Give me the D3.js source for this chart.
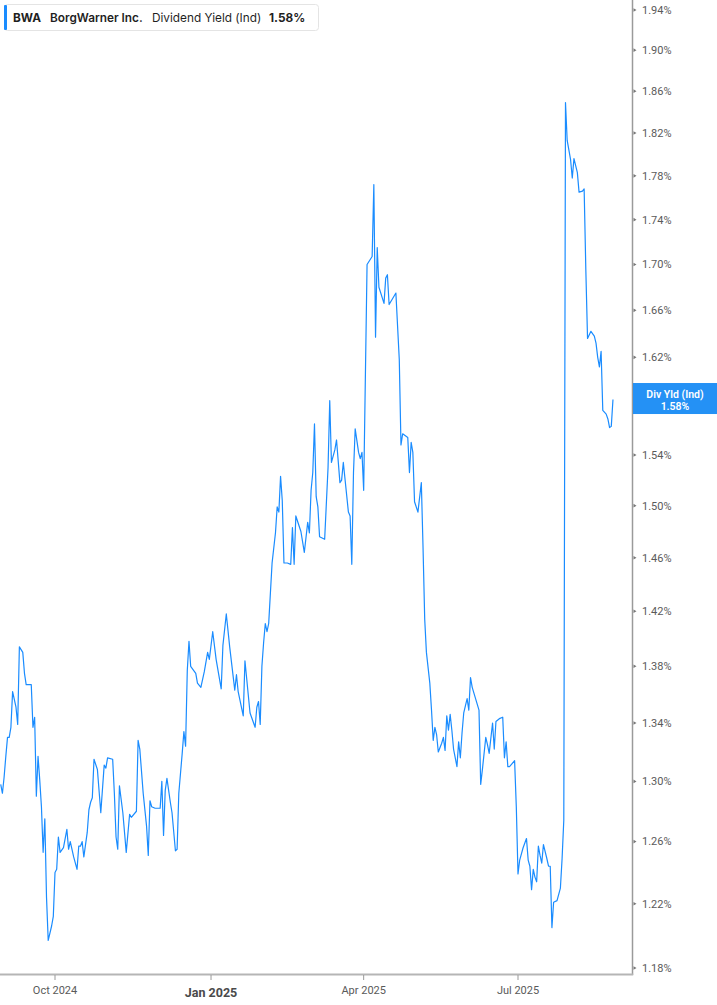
<!DOCTYPE html>
<html><head><meta charset="utf-8">
<script src="https://cdn.jsdelivr.net/npm/d3@7"></script>
<style>
html,body{margin:0;padding:0;background:#fff;}
svg{display:block;}
</style></head><body>
<svg id="chart" width="717" height="1005"></svg>
<script>
const dates = [
"2024-08-30","2024-08-31","2024-09-01","2024-09-02","2024-09-03","2024-09-04","2024-09-05","2024-09-06","2024-09-08","2024-09-09",
"2024-09-10","2024-09-12","2024-09-13","2024-09-14","2024-09-17","2024-09-18","2024-09-19","2024-09-20","2024-09-21","2024-09-22",
"2024-09-23","2024-09-24","2024-09-25","2024-09-26","2024-09-27","2024-09-29","2024-09-30","2024-10-01","2024-10-02","2024-10-03",
"2024-10-04","2024-10-06","2024-10-08","2024-10-09","2024-10-10","2024-10-12","2024-10-14","2024-10-15","2024-10-16","2024-10-17",
"2024-10-18","2024-10-20","2024-10-21","2024-10-22","2024-10-23","2024-10-24","2024-10-26","2024-10-28","2024-10-30","2024-10-31",
"2024-11-01","2024-11-04","2024-11-05","2024-11-06","2024-11-07","2024-11-08","2024-11-10","2024-11-12","2024-11-14","2024-11-15",
"2024-11-18","2024-11-19","2024-11-20","2024-11-22","2024-11-24","2024-11-25","2024-11-26","2024-11-27","2024-11-29","2024-12-02",
"2024-12-03","2024-12-04","2024-12-05","2024-12-06","2024-12-08","2024-12-09","2024-12-11","2024-12-12","2024-12-13","2024-12-15",
"2024-12-16","2024-12-17","2024-12-18","2024-12-19","2024-12-20","2024-12-23","2024-12-24","2024-12-26","2024-12-28","2024-12-30",
"2024-12-31","2025-01-02","2025-01-04","2025-01-07","2025-01-08","2025-01-10","2025-01-12","2025-01-15","2025-01-16","2025-01-17",
"2025-01-20","2025-01-21","2025-01-24","2025-01-27","2025-01-28","2025-01-29","2025-01-30","2025-01-31","2025-02-01","2025-02-02",
"2025-02-03","2025-02-04","2025-02-06","2025-02-08","2025-02-09","2025-02-10","2025-02-11","2025-02-12","2025-02-13","2025-02-15",
"2025-02-17","2025-02-18","2025-02-19","2025-02-20","2025-02-23","2025-02-25","2025-02-27","2025-02-28","2025-03-01","2025-03-02",
"2025-03-03","2025-03-04","2025-03-05","2025-03-06","2025-03-09","2025-03-11","2025-03-12","2025-03-13","2025-03-15","2025-03-16",
"2025-03-18","2025-03-19","2025-03-20","2025-03-23","2025-03-24","2025-03-25","2025-03-26","2025-03-27","2025-03-29","2025-03-30",
"2025-03-31","2025-04-01","2025-04-03","2025-04-06","2025-04-07","2025-04-08","2025-04-09","2025-04-10","2025-04-13","2025-04-14",
"2025-04-15","2025-04-16","2025-04-20","2025-04-22","2025-04-23","2025-04-24","2025-04-27","2025-04-28","2025-04-29","2025-04-30",
"2025-05-01","2025-05-03","2025-05-05","2025-05-06","2025-05-07","2025-05-08","2025-05-10","2025-05-11","2025-05-12","2025-05-13",
"2025-05-14","2025-05-15","2025-05-17","2025-05-18","2025-05-19","2025-05-20","2025-05-21","2025-05-22","2025-05-23","2025-05-24",
"2025-05-26","2025-05-27","2025-05-28","2025-05-29","2025-05-30","2025-06-01","2025-06-02","2025-06-03","2025-06-04","2025-06-08",
"2025-06-09","2025-06-10","2025-06-12","2025-06-13","2025-06-14","2025-06-16","2025-06-17","2025-06-18","2025-06-20","2025-06-22",
"2025-06-23","2025-06-24","2025-06-25","2025-06-26","2025-06-29","2025-06-30","2025-07-01","2025-07-02","2025-07-04","2025-07-06",
"2025-07-07","2025-07-08","2025-07-09","2025-07-10","2025-07-11","2025-07-12","2025-07-13","2025-07-14","2025-07-15","2025-07-16",
"2025-07-18","2025-07-19","2025-07-20","2025-07-21","2025-07-22","2025-07-24","2025-07-26","2025-07-27","2025-07-28","2025-07-29",
"2025-07-30","2025-08-01","2025-08-02","2025-08-03","2025-08-05","2025-08-06","2025-08-08","2025-08-09","2025-08-10","2025-08-11",
"2025-08-13","2025-08-15","2025-08-16","2025-08-17","2025-08-18","2025-08-19","2025-08-20","2025-08-22","2025-08-23","2025-08-24",
"2025-08-25","2025-08-26"
];

const dividendYield = [
1.298,1.292,1.303,1.317,1.330,1.330,1.337,1.362,1.351,1.339,
1.394,1.390,1.375,1.367,1.367,1.337,1.344,1.290,1.317,1.301,
1.283,1.253,1.275,1.224,1.197,1.206,1.212,1.240,1.242,1.263,
1.253,1.256,1.268,1.255,1.260,1.250,1.242,1.257,1.257,1.260,
1.250,1.266,1.281,1.286,1.289,1.315,1.308,1.279,1.311,1.309,
1.316,1.315,1.292,1.263,1.255,1.297,1.279,1.253,1.278,1.276,
1.280,1.328,1.322,1.292,1.270,1.251,1.287,1.283,1.282,1.282,
1.300,1.264,1.294,1.302,1.286,1.279,1.254,1.255,1.292,1.319,
1.334,1.324,1.377,1.398,1.380,1.375,1.368,1.365,1.376,1.390,
1.385,1.405,1.385,1.364,1.395,1.418,1.394,1.363,1.374,1.362,
1.345,1.384,1.347,1.337,1.351,1.355,1.339,1.380,1.397,1.411,
1.405,1.411,1.456,1.479,1.499,1.495,1.523,1.504,1.456,1.456,
1.455,1.483,1.455,1.492,1.480,1.464,1.487,1.479,1.512,1.526,
1.565,1.507,1.499,1.476,1.474,1.530,1.584,1.534,1.544,1.552,
1.518,1.520,1.534,1.495,1.492,1.455,1.526,1.561,1.542,1.537,
1.542,1.512,1.700,1.707,1.772,1.637,1.715,1.680,1.666,1.688,
1.691,1.665,1.675,1.618,1.548,1.557,1.554,1.526,1.550,1.542,
1.503,1.495,1.518,1.468,1.414,1.390,1.368,1.349,1.328,1.337,
1.332,1.320,1.326,1.330,1.321,1.345,1.335,1.346,1.335,1.322,
1.310,1.327,1.316,1.333,1.347,1.357,1.349,1.372,1.365,1.349,
1.298,1.308,1.330,1.325,1.319,1.340,1.322,1.341,1.343,1.344,
1.316,1.327,1.310,1.310,1.314,1.283,1.239,1.248,1.256,1.262,
1.248,1.244,1.229,1.242,1.237,1.234,1.257,1.251,1.246,1.258,
1.249,1.244,1.244,1.205,1.221,1.222,1.230,1.249,1.274,1.849,
1.813,1.795,1.778,1.796,1.783,1.765,1.766,1.768,1.695,1.636,
1.642,1.638,1.632,1.620,1.612,1.625,1.576,1.573,1.569,1.562,
1.563,1.585
];

const yTickValues = [1.18,1.22,1.26,1.30,1.34,1.38,1.42,1.46,1.50,1.54,1.58,1.62,1.66,1.70,1.74,1.78,1.82,1.86,1.90,1.94];
const xTickDates = ["2024-10-01","2025-01-01","2025-04-01","2025-07-01"];
const xTickLabels = ["Oct 2024","Jan 2025","Apr 2025","Jul 2025"];
const xTickMajor = [false,true,false,false];

const ticker = "BWA";
const companyName = "BorgWarner Inc.";
const metricName = "Dividend Yield (Ind)";
const metricShort = "Div Yld (Ind)";
const currentYield = 1.58;

// ---------- drawing ----------
const parse = d3.timeParse("%Y-%m-%d");
const data = dates.map((d, i) => ({ date: parse(d), value: dividendYield[i] }));

const W = 717, H = 1005;
const plotRight = 632, plotBottom = 974;
const blue = "#1a8cff";

const svg = d3.select("#chart");

const x = d3.scaleTime()
  .domain([parse("2024-10-01"), parse("2025-07-01")])
  .range([55, 518]);
const y = d3.scaleLog()
  .domain([1.18, 1.94])
  .range([968, 10]);

svg.append("defs").append("clipPath").attr("id", "plotclip")
  .append("rect").attr("x", 0).attr("y", 0).attr("width", plotRight).attr("height", plotBottom);

// line
const line = d3.line().x(d => x(d.date)).y(d => y(d.value));
svg.append("path")
  .datum(data)
  .attr("clip-path", "url(#plotclip)")
  .attr("d", line)
  .attr("fill", "none")
  .attr("stroke", blue)
  .attr("stroke-width", 1.2)
  .attr("stroke-linejoin", "round");

// current value tag geometry
const cy = y(currentYield);
const tagTop = cy - 22.5, tagH = 31;

// right axis
const fmt = d3.format(".2f");
const yAxisG = svg.append("g");
yAxisG.append("line")
  .attr("x1", plotRight + 0.5).attr("x2", plotRight + 0.5)
  .attr("y1", 0).attr("y2", plotBottom + 1)
  .attr("stroke", "#9a9a9a").attr("stroke-width", 1.5);
const yt = yAxisG.selectAll("g.yt").data(yTickValues).enter().append("g")
  .attr("transform", d => `translate(0,${y(d)})`);
yt.append("path")
  .attr("d", `M${plotRight + 1.5},-1.8 L${plotRight + 4.5},0 L${plotRight + 1.5},1.8 Z`)
  .attr("fill", "#777");
yt.filter(d => y(d) < tagTop - 6 || y(d) > tagTop + tagH + 6)
  .append("text")
  .attr("x", 642).attr("y", 0).attr("dy", "0.35em")
  .attr("font-family", "Roboto, 'Liberation Sans', sans-serif")
  .attr("font-size", 11)
  .attr("fill", "#5a5a5a")
  .text(d => fmt(d) + "%");

// bottom axis
const xAxisG = svg.append("g");
xAxisG.append("line")
  .attr("x1", 0).attr("x2", plotRight + 1.2)
  .attr("y1", plotBottom + 0.5).attr("y2", plotBottom + 0.5)
  .attr("stroke", "#b5b5b5").attr("stroke-width", 2);
const xt = xAxisG.selectAll("g.xt").data(xTickDates).enter().append("g")
  .attr("transform", d => `translate(${x(parse(d))},0)`);
xt.append("line")
  .attr("y1", plotBottom + 1).attr("y2", plotBottom + 6)
  .attr("stroke", "#999").attr("stroke-width", 1);
xt.append("text")
  .attr("text-anchor", "middle")
  .attr("y", (d, i) => xTickMajor[i] ? 997 : 994)
  .attr("font-family", "Roboto, 'Liberation Sans', sans-serif")
  .attr("font-size", (d, i) => xTickMajor[i] ? 12.5 : 11)
  .attr("font-weight", (d, i) => xTickMajor[i] ? 700 : 400)
  .attr("fill", (d, i) => xTickMajor[i] ? "#4a4a4a" : "#5a5a5a")
  .text((d, i) => xTickLabels[i]);

// current value label on right axis
const tag = svg.append("g");
tag.append("rect")
  .attr("x", plotRight + 1).attr("y", tagTop)
  .attr("width", W - plotRight - 1).attr("height", tagH)
  .attr("fill", "#2491f5");
tag.append("text")
  .attr("x", 675).attr("y", cy - 11).attr("dy", "0.35em")
  .attr("text-anchor", "middle")
  .attr("font-family", "Roboto, 'Liberation Sans', sans-serif")
  .attr("font-size", 10.5).attr("font-weight", 600)
  .attr("fill", "#fff")
  .text(metricShort);
tag.append("text")
  .attr("x", 675).attr("y", cy + 0.5).attr("dy", "0.35em")
  .attr("text-anchor", "middle")
  .attr("font-family", "Roboto, 'Liberation Sans', sans-serif")
  .attr("font-size", 10.5).attr("font-weight", 600)
  .attr("fill", "#fff")
  .text(fmt(currentYield) + "%");

// legend
const lg = svg.append("g");
lg.append("rect")
  .attr("x", 4.5).attr("y", 4.5).attr("width", 314).attr("height", 26).attr("rx", 3)
  .attr("fill", "#fff").attr("stroke", "#e4e4e4");
lg.append("rect")
  .attr("x", 4).attr("y", 5).attr("width", 3).attr("height", 25).attr("rx", 1)
  .attr("fill", blue);
const parts = [
  { t: ticker, w: 700, x: 13 },
  { t: companyName, w: 600, x: 50 },
  { t: metricName, w: 400, x: 152 },
  { t: fmt(currentYield) + "%", w: 700, x: 269 }
];
parts.forEach(p => {
  lg.append("text")
    .attr("x", p.x).attr("y", 21.5)
    .attr("font-family", "Inter, 'Noto Sans', sans-serif")
    .attr("font-size", 11.8)
    .attr("font-weight", p.w)
    .attr("fill", "#1f1f1f")
    .text(p.t);
});
</script>
</body></html>
